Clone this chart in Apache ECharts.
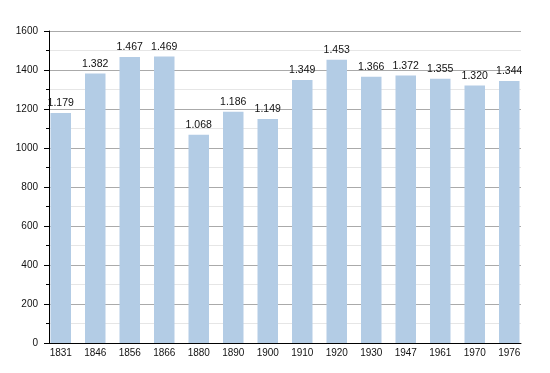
<!DOCTYPE html>
<html><head><meta charset="utf-8">
<script src="https://cdn.jsdelivr.net/npm/echarts@6/dist/echarts.min.js"></script>
<style>html,body{margin:0;padding:0;background:#fff}#c{width:550px;height:373px}</style>
</head><body><div id="c"></div>
<script>
const years = ['1831','1846','1856','1866','1880','1890','1900','1910','1920','1930','1947','1961','1970','1976'];
const population = [1179,1382,1467,1469,1068,1186,1149,1349,1453,1366,1372,1355,1320,1344];
const yTicks = [0,200,400,600,800,1000,1200,1400,1600];

const fmt = v => { const s = String(v); return s.length > 3 ? s.slice(0, s.length-3) + '.' + s.slice(-3) : s; };
const font = 'Liberation Sans, Arial, sans-serif';
const chart = echarts.init(document.getElementById('c'), null, {renderer:'canvas'});
chart.setOption({
  animation:false,
  backgroundColor:'#fff',
  grid:[
    {left:49, top:31, width:472, height:312, containLabel:false},
    {left:43.5, top:31, width:483, height:312, containLabel:false}
  ],
  xAxis:[
    {gridIndex:0, type:'category', data:years, axisLabel:{show:false}, axisTick:{show:false},
     axisLine:{lineStyle:{color:'#000', width:1}}, splitLine:{show:false}},
    {gridIndex:1, type:'category', data:years, axisLine:{show:false}, axisTick:{show:false},
     splitLine:{show:false},
     axisLabel:{color:'#111', fontSize:10, fontFamily:font, margin:5}}
  ],
  yAxis:[
    {gridIndex:0, type:'value', min:yTicks[0], max:yTicks[yTicks.length-1], interval:200,
     axisLine:{show:true, lineStyle:{color:'#000', width:1}},
     axisTick:{show:true, length:5, lineStyle:{color:'#000'}},
     minorTick:{show:true, splitNumber:2, length:3, lineStyle:{color:'#000'}},
     axisLabel:{color:'#111', fontSize:10, fontFamily:font, margin:11, formatter:v => String(v)},
     splitLine:{show:true, lineStyle:{color:'#aaaaaa', width:1}},
     minorSplitLine:{show:true, lineStyle:{color:'#e6e6e6', width:1}}},
    {gridIndex:1, type:'value', min:yTicks[0], max:yTicks[yTicks.length-1], show:false, splitLine:{show:false}}
  ],
  series:[{
    type:'bar', xAxisIndex:1, yAxisIndex:1, data:population, barWidth:20.5, z:10,
    itemStyle:{color:'#b3cce5'},
    label:{show:true, position:'top', distance:4, color:'#111', fontSize:10.5, fontFamily:font,
      formatter:p => fmt(p.value)}
  }]
});
</script></body></html>
